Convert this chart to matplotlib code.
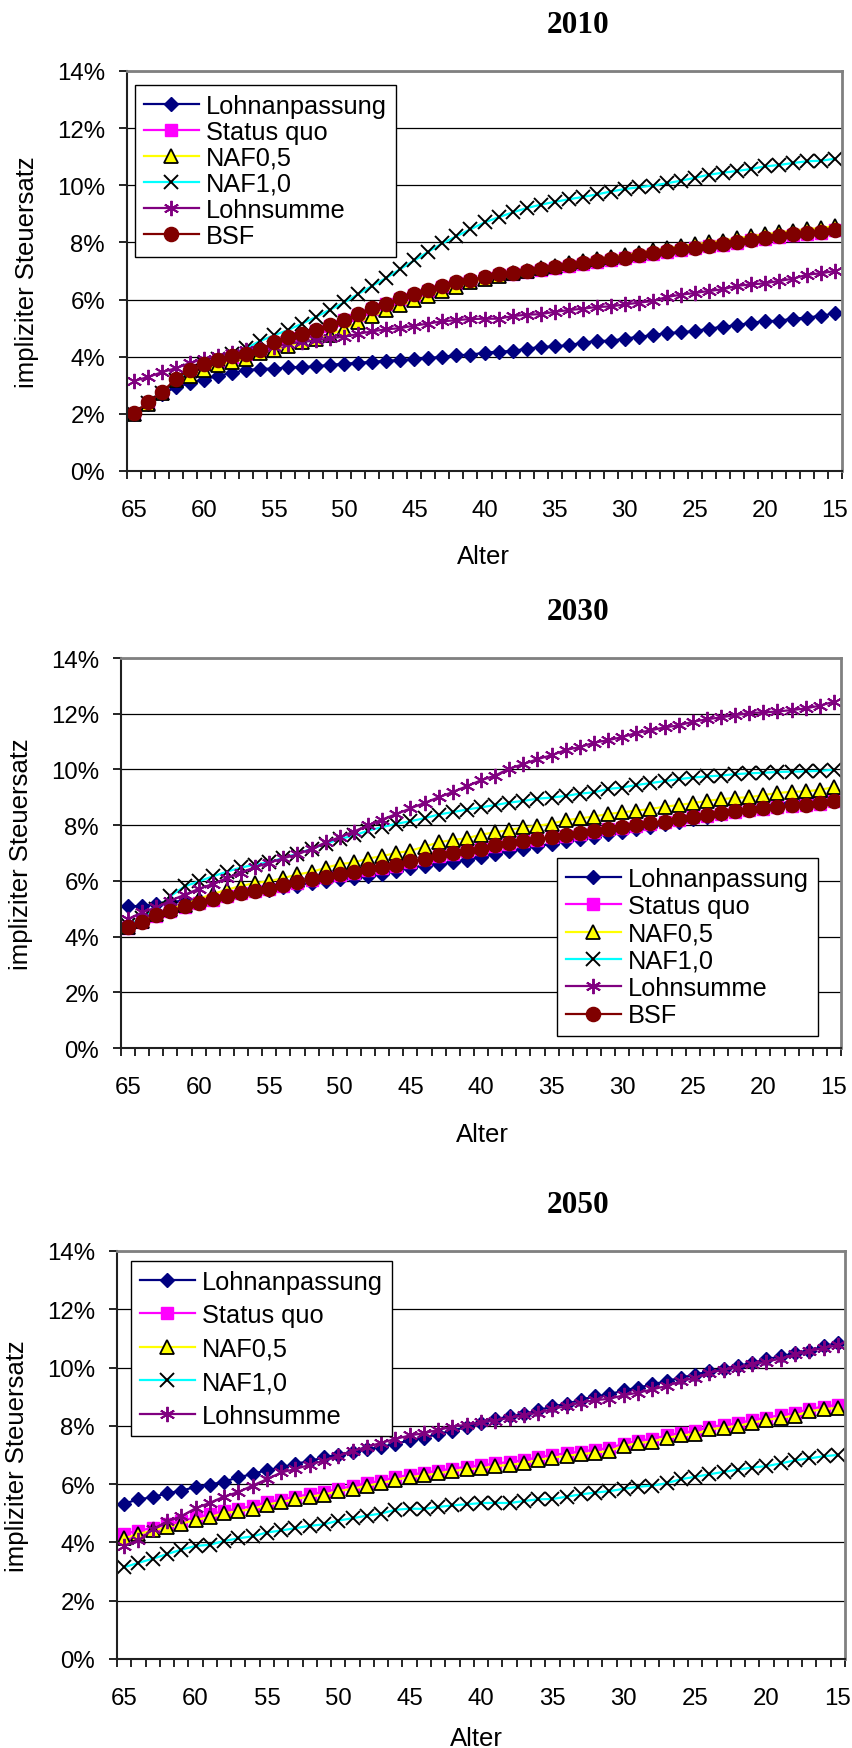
import numpy as np
import matplotlib
matplotlib.use("Agg")
import matplotlib.pyplot as plt

plt.rcParams['font.family'] = ['Liberation Sans', 'DejaVu Sans']

W, H = 853, 1749

# Alter 65 .. 15, eine Kategorie pro Jahr
ages = list(range(65, 14, -1))
age_ticks = list(range(65, 14, -5))

# ---- 2010 ----
lohn_2010 = [2.0, 2.35, 2.7, 2.94, 3.08, 3.2, 3.33, 3.44, 3.52, 3.58, 3.58, 3.63, 3.64, 3.66, 3.72, 3.75, 3.79,
             3.82, 3.86, 3.88, 3.92, 3.95, 4.0, 4.05, 4.07, 4.14, 4.18, 4.2, 4.28, 4.34, 4.36, 4.4, 4.49, 4.55,
             4.56, 4.63, 4.7, 4.75, 4.83, 4.85, 4.9, 4.98, 5.05, 5.1, 5.19, 5.24, 5.26, 5.33, 5.37, 5.43, 5.52]
sq_2010 = [2.0, 2.38, 2.74, 3.2, 3.52, 3.73, 3.86, 4.0, 4.08, 4.2, 4.47, 4.65, 4.77, 4.9, 5.07, 5.27, 5.47,
           5.67, 5.83, 6.02, 6.15, 6.3, 6.45, 6.57, 6.66, 6.77, 6.85, 6.91, 6.97, 7.05, 7.11, 7.19, 7.26, 7.33,
           7.39, 7.44, 7.52, 7.59, 7.66, 7.73, 7.79, 7.86, 7.91, 7.99, 8.07, 8.13, 8.19, 8.25, 8.3, 8.33, 8.42]
naf05_2010 = [2.0, 2.35, 2.72, 3.2, 3.32, 3.52, 3.7, 3.82, 3.92, 4.12, 4.22, 4.38, 4.5, 4.63, 4.77, 4.98, 5.2,
              5.43, 5.62, 5.8, 5.97, 6.13, 6.3, 6.45, 6.6, 6.73, 6.83, 6.92, 7.01, 7.1, 7.19, 7.27, 7.35, 7.43,
              7.5, 7.56, 7.64, 7.72, 7.8, 7.87, 7.93, 8.0, 8.06, 8.14, 8.22, 8.28, 8.35, 8.41, 8.47, 8.5, 8.58]
naf10_2010 = [2.0, 2.38, 2.74, 3.2, 3.5, 3.74, 3.93, 4.1, 4.3, 4.55, 4.75, 4.94, 5.16, 5.4, 5.65, 5.9, 6.2,
              6.48, 6.76, 7.07, 7.37, 7.68, 7.97, 8.22, 8.46, 8.7, 8.88, 9.05, 9.2, 9.32, 9.42, 9.51, 9.59, 9.68,
              9.78, 9.87, 9.93, 9.99, 10.07, 10.16, 10.26, 10.37, 10.44, 10.5, 10.57, 10.66, 10.71, 10.78, 10.84,
              10.86, 10.93]
lsum_2010 = [3.15, 3.29, 3.46, 3.6, 3.78, 3.93, 4.03, 4.13, 4.22, 4.28, 4.34, 4.45, 4.52, 4.57, 4.65, 4.7, 4.8,
             4.89, 4.96, 5.0, 5.09, 5.16, 5.24, 5.28, 5.32, 5.33, 5.33, 5.42, 5.47, 5.49, 5.57, 5.63, 5.68, 5.74,
             5.76, 5.83, 5.89, 5.95, 6.09, 6.17, 6.23, 6.3, 6.36, 6.48, 6.53, 6.57, 6.65, 6.73, 6.87, 6.92, 7.0]
bsf_2010 = [2.02, 2.4, 2.76, 3.23, 3.55, 3.76, 3.88, 4.03, 4.1, 4.22, 4.5, 4.68, 4.8, 4.93, 5.1, 5.3, 5.5,
            5.7, 5.86, 6.05, 6.18, 6.33, 6.48, 6.6, 6.69, 6.8, 6.88, 6.94, 7.0, 7.08, 7.14, 7.22, 7.29, 7.36,
            7.42, 7.47, 7.55, 7.62, 7.69, 7.76, 7.82, 7.89, 7.94, 8.02, 8.1, 8.16, 8.22, 8.28, 8.33, 8.36, 8.45]

# ---- 2030 ----
lohn_2030 = [5.08, 5.1, 5.18, 5.25, 5.28, 5.3, 5.38, 5.47, 5.56, 5.62, 5.68, 5.77, 5.83, 5.93, 6.0, 6.08, 6.12,
             6.18, 6.25, 6.35, 6.47, 6.55, 6.6, 6.68, 6.75, 6.84, 6.97, 7.06, 7.14, 7.25, 7.32, 7.43, 7.51, 7.59,
             7.7, 7.77, 7.85, 7.92, 8.03, 8.12, 8.21, 8.3, 8.4, 8.5, 8.58, 8.67, 8.76, 8.84, 8.92, 9.0, 9.1]
sq_2030 = [4.32, 4.52, 4.75, 4.91, 5.06, 5.19, 5.33, 5.45, 5.56, 5.63, 5.7, 5.83, 5.93, 6.04, 6.13, 6.21, 6.29,
           6.39, 6.47, 6.54, 6.68, 6.77, 6.9, 6.97, 7.06, 7.14, 7.25, 7.33, 7.42, 7.48, 7.56, 7.62, 7.69, 7.76,
           7.85, 7.9, 7.98, 8.04, 8.11, 8.2, 8.28, 8.34, 8.41, 8.48, 8.54, 8.58, 8.64, 8.69, 8.71, 8.77, 8.85]
naf05_2030 = [4.36, 4.56, 4.8, 4.98, 5.15, 5.35, 5.53, 5.68, 5.82, 5.92, 5.99, 6.1, 6.23, 6.32, 6.47, 6.6, 6.66,
              6.8, 6.89, 7.0, 7.08, 7.23, 7.38, 7.47, 7.53, 7.66, 7.74, 7.83, 7.92, 7.98, 8.05, 8.18, 8.24, 8.31,
              8.4, 8.46, 8.52, 8.58, 8.66, 8.72, 8.79, 8.87, 8.93, 8.98, 9.0, 9.08, 9.15, 9.2, 9.21, 9.27, 9.36]
naf10_2030 = [4.4, 4.68, 5.0, 5.45, 5.8, 5.98, 6.16, 6.33, 6.48, 6.58, 6.68, 6.82, 6.98, 7.15, 7.33, 7.5, 7.63,
              7.8, 7.93, 8.05, 8.14, 8.25, 8.38, 8.47, 8.56, 8.64, 8.72, 8.81, 8.87, 8.95, 8.99, 9.05, 9.13, 9.18,
              9.3, 9.35, 9.44, 9.51, 9.58, 9.65, 9.71, 9.75, 9.78, 9.83, 9.86, 9.88, 9.91, 9.92, 9.93, 9.95, 9.99]
lsum_2030 = [4.63, 4.87, 5.05, 5.29, 5.5, 5.71, 5.89, 6.1, 6.3, 6.49, 6.65, 6.81, 6.95, 7.15, 7.38, 7.57, 7.77,
             7.99, 8.2, 8.4, 8.6, 8.8, 9.0, 9.19, 9.4, 9.61, 9.78, 10.03, 10.19, 10.37, 10.51, 10.7, 10.8, 10.96,
             11.05, 11.16, 11.31, 11.4, 11.51, 11.58, 11.71, 11.8, 11.87, 11.95, 12.02, 12.05, 12.08, 12.13,
             12.19, 12.29, 12.43]
bsf_2030 = [4.34, 4.54, 4.77, 4.93, 5.08, 5.21, 5.35, 5.47, 5.58, 5.65, 5.72, 5.85, 5.95, 6.06, 6.15, 6.23, 6.31,
            6.41, 6.49, 6.56, 6.7, 6.79, 6.92, 6.99, 7.08, 7.16, 7.27, 7.35, 7.44, 7.5, 7.58, 7.64, 7.71, 7.78,
            7.87, 7.92, 8.0, 8.06, 8.13, 8.22, 8.3, 8.36, 8.43, 8.5, 8.56, 8.6, 8.66, 8.71, 8.73, 8.79, 8.87]

# ---- 2050 (ohne BSF) ----
lohn_2050 = [5.33, 5.48, 5.55, 5.69, 5.77, 5.91, 5.98, 6.09, 6.23, 6.35, 6.48, 6.58, 6.7, 6.79, 6.92, 7.01, 7.1,
             7.19, 7.28, 7.38, 7.5, 7.6, 7.72, 7.84, 7.96, 8.1, 8.22, 8.33, 8.4, 8.53, 8.67, 8.75, 8.9, 9.01,
             9.08, 9.22, 9.31, 9.42, 9.54, 9.65, 9.76, 9.87, 9.95, 10.05, 10.17, 10.28, 10.39, 10.49, 10.58,
             10.73, 10.85]
sq_2050 = [4.3, 4.4, 4.5, 4.62, 4.74, 4.86, 4.96, 5.08, 5.16, 5.25, 5.38, 5.47, 5.57, 5.65, 5.73, 5.84, 5.93,
           6.03, 6.12, 6.23, 6.32, 6.39, 6.46, 6.53, 6.6, 6.64, 6.71, 6.76, 6.82, 6.92, 7.0, 7.06, 7.12, 7.18,
           7.24, 7.39, 7.49, 7.55, 7.67, 7.76, 7.82, 7.96, 8.03, 8.09, 8.2, 8.28, 8.37, 8.44, 8.58, 8.66, 8.72]
naf05_2050 = [4.14, 4.29, 4.41, 4.52, 4.64, 4.77, 4.87, 5.0, 5.07, 5.15, 5.3, 5.38, 5.49, 5.57, 5.64, 5.76, 5.84,
              5.95, 6.03, 6.15, 6.24, 6.3, 6.37, 6.45, 6.51, 6.54, 6.62, 6.66, 6.72, 6.83, 6.91, 6.97, 7.03, 7.08,
              7.14, 7.31, 7.41, 7.46, 7.59, 7.67, 7.72, 7.88, 7.94, 8.0, 8.11, 8.2, 8.28, 8.35, 8.5, 8.57, 8.62]
naf10_2050 = [3.15, 3.3, 3.44, 3.6, 3.75, 3.88, 3.92, 4.05, 4.14, 4.21, 4.34, 4.41, 4.49, 4.57, 4.62, 4.75, 4.83,
              4.92, 4.99, 5.12, 5.16, 5.15, 5.22, 5.27, 5.31, 5.35, 5.36, 5.35, 5.42, 5.48, 5.49, 5.57, 5.65,
              5.71, 5.76, 5.84, 5.91, 5.95, 6.03, 6.17, 6.25, 6.34, 6.42, 6.5, 6.57, 6.62, 6.71, 6.82, 6.88,
              6.96, 7.0]
lsum_2050 = [3.89, 4.07, 4.45, 4.72, 4.9, 5.17, 5.36, 5.57, 5.73, 5.95, 6.17, 6.4, 6.52, 6.66, 6.81, 6.97, 7.14,
             7.27, 7.42, 7.55, 7.67, 7.75, 7.86, 7.97, 8.04, 8.12, 8.18, 8.28, 8.36, 8.45, 8.58, 8.68, 8.8, 8.88,
             8.93, 9.05, 9.14, 9.25, 9.37, 9.53, 9.65, 9.82, 9.93, 10.0, 10.11, 10.2, 10.31, 10.45, 10.56,
             10.67, 10.77]

# Linien- und Markerstil je Szenario
styles = {
    'Lohnanpassung': dict(color='#000080', marker='D', ms=7.6, mfc='#000080', mec='#000080'),
    'Status quo': dict(color='#FF00FF', marker='s', ms=8.2, mfc='#FF00FF', mec='#FF00FF'),
    'NAF0,5': dict(color='#FFFF00', marker='^', ms=10.5, mfc='#FFFF00', mec='black', mew=1.3),
    'NAF1,0': dict(color='#00FFFF', marker='x', ms=10, mec='black', mew=1.4),
    'Lohnsumme': dict(color='#800080', marker=(6, 2, 0), ms=11, mec='#800080', mew=1.4),
    'BSF': dict(color='#800000', marker='o', ms=10.2, mfc='#800000', mec='#800000'),
}

panels = [
    dict(year='2010', box=(127, 842, 72, 472),
         series=[('Lohnanpassung', lohn_2010), ('Status quo', sq_2010), ('NAF0,5', naf05_2010),
                 ('NAF1,0', naf10_2010), ('Lohnsumme', lsum_2010), ('BSF', bsf_2010)],
         title_y=33, xlabel_x=483, xlabel_y=564, ylabel_x=27, leg=(135, 86), legsp=0.08),
    dict(year='2030', box=(121, 841, 659, 1049),
         series=[('Lohnanpassung', lohn_2030), ('Status quo', sq_2030), ('NAF0,5', naf05_2030),
                 ('NAF1,0', naf10_2030), ('Lohnsumme', lsum_2030), ('BSF', bsf_2030)],
         title_y=620, xlabel_x=482, xlabel_y=1142, ylabel_x=21, leg=(557, 859), legsp=0.13),
    dict(year='2050', box=(117, 845, 1252, 1660),
         series=[('Lohnanpassung', lohn_2050), ('Status quo', sq_2050), ('NAF0,5', naf05_2050),
                 ('NAF1,0', naf10_2050), ('Lohnsumme', lsum_2050)],
         title_y=1213, xlabel_x=476, xlabel_y=1746, ylabel_x=17, leg=(131, 1262), legsp=0.37),
]

fig = plt.figure(figsize=(W / 100, H / 100), dpi=100)
fig.patch.set_facecolor('white')
px = 72 / 100  # Pixel -> Punkt

for p in panels:
    l, r, t, b = p['box']
    ax = fig.add_axes([l / W, 1 - b / H, (r - l) / W, (b - t) / H])
    x = np.arange(len(ages))
    for name, vals in p['series']:
        assert len(vals) == len(ages), name
        ax.plot(x, vals, lw=1.6, label=name, **styles[name])

    ax.set_xlim(-0.5, len(ages) - 0.5)
    ax.set_ylim(0, 14)
    ax.set_yticks(range(0, 15, 2))
    ax.set_yticklabels(['%d%%' % v for v in range(0, 15, 2)])
    ax.set_xticks([ages.index(a) for a in age_ticks])
    ax.set_xticklabels([str(a) for a in age_ticks])
    ax.set_xticks(np.arange(-0.5, len(ages), 1), minor=True)

    ax.tick_params(axis='y', which='major', length=8 * px, width=1.2, pad=10, labelsize=17.3, direction='out')
    ax.tick_params(axis='x', which='major', length=0, pad=20.5, labelsize=17.3)
    ax.tick_params(axis='x', which='minor', length=8 * px, width=1.2, direction='out')

    ax.grid(axis='y', color='black', lw=0.9)
    ax.set_axisbelow(True)
    for s in ('left', 'bottom'):
        ax.spines[s].set_color('#202020')
        ax.spines[s].set_linewidth(1.5)
    for s in ('top', 'right'):
        ax.spines[s].set_color('#808080')
        ax.spines[s].set_linewidth(2)

    leg = ax.legend(loc='upper left', bbox_to_anchor=(p['leg'][0] / W, 1 - p['leg'][1] / H),
                    bbox_transform=fig.transFigure, borderaxespad=0, fontsize=18.3,
                    handlelength=2.17, handletextpad=0.28, labelspacing=p['legsp'], borderpad=0.35,
                    fancybox=False, framealpha=1, edgecolor='black', numpoints=1)
    leg.get_frame().set_linewidth(1.0)
    leg.set_zorder(10)

    fig.text(578 / W, 1 - p['title_y'] / H, p['year'], ha='center', va='baseline',
             fontsize=22.5, fontweight='bold', family='Liberation Serif')
    fig.text(p['xlabel_x'] / W, 1 - p['xlabel_y'] / H, 'Alter', ha='center', va='baseline', fontsize=18.5)
    fig.text(p['ylabel_x'] / W, 1 - (t + b) / 2 / H, 'impliziter Steuersatz', ha='center', va='center',
             rotation=90, fontsize=18.5)

fig.savefig('out.png', dpi=100, facecolor='white')
